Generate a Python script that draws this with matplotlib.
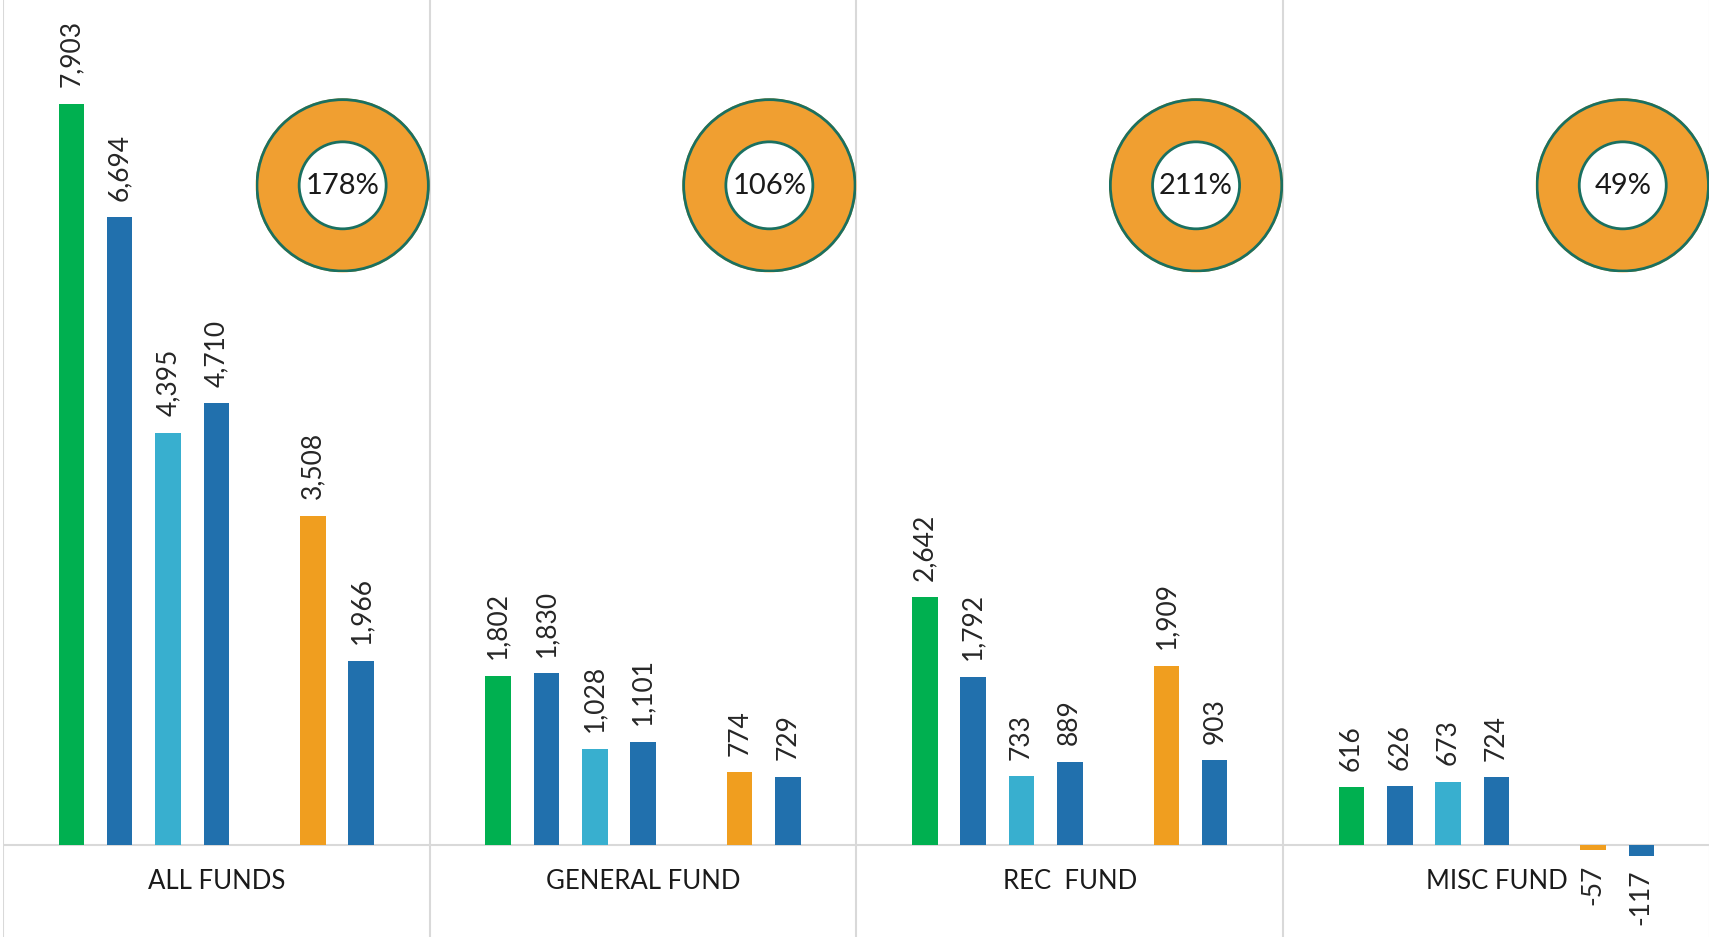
import matplotlib.pyplot as plt
from matplotlib.patches import Circle

plt.rcParams['font.family'] = ['Lato', 'DejaVu Sans']

funds = ["ALL FUNDS", "GENERAL FUND", "REC  FUND", "MISC FUND"]
s_green = [7903, 1802, 2642, 616]
s_blue1 = [6694, 1830, 1792, 626]
s_light = [4395, 1028, 733, 673]
s_blue2 = [4710, 1101, 889, 724]
s_orange = [3508, 774, 1909, -57]
s_blue3 = [1966, 729, 903, -117]
pcts = [178, 106, 211, 49]

# slot 4 is an empty series in the original
series = [(0, s_green, '#00B050'), (1, s_blue1, '#2170AD'), (2, s_light, '#38AFCF'),
          (3, s_blue2, '#2170AD'), (5, s_orange, '#F09E1F'), (6, s_blue3, '#2170AD')]

ymin, ymax = -982, 9012
upp = (ymax - ymin) / 937  # data units per pixel

fig = plt.figure(figsize=(17.09, 9.372), dpi=100)
ax = fig.add_axes([3 / 1709, 0, 1706 / 1709, 1])
ax.set_xlim(0, 1706 / 426.7)
ax.set_ylim(ymin, ymax)
ax.axis('off')

step = 48.3 / 426.7
width = 25.5 / 426.7
for slot, vals, col in series:
    xs = [i + 0.5 + (slot - 3) * step for i in range(len(funds))]
    bars = ax.bar(xs, vals, width, color=col, zorder=3)
    for b, v in zip(bars, vals):
        x = b.get_x() + b.get_width() / 2
        if v >= 0:
            ax.annotate(f"{v:,}", (x, v), xytext=(0, 12), textcoords='offset points',
                        rotation=90, ha='center', va='bottom', fontsize=19, color='#262626')
        else:
            ax.annotate(f"{v:,}", (x, v), xytext=(0, -10), textcoords='offset points',
                        rotation=90, ha='center', va='top', fontsize=19, color='#262626')

for i in range(len(funds) + 1):
    ax.axvline(i, color='#D9D9D9', lw=1.5, zorder=1)
ax.axhline(0, color='#D9D9D9', lw=1.5, zorder=2)

for i, name in enumerate(funds):
    ax.text(i + 0.5, ymax - 881 * upp, name, ha='center', va='center',
            fontsize=18.5, color='#1a1a1a')

# donuts
rx = 87 / 426.7
ry = 87 * upp
cy = ymax - 185.5 * upp
for i, p in enumerate(pcts):
    cx = i + 0.796
    dax = ax.inset_axes([cx - rx, cy - ry, 2 * rx, 2 * ry], transform=ax.transData)
    dax.pie([1], colors=['#F09F31'], radius=1, startangle=90,
            wedgeprops=dict(width=0.5, edgecolor='none'))
    dax.add_patch(Circle((0, 0), 0.985, fill=False, ec='#1A7060', lw=2))
    dax.add_patch(Circle((0, 0), 0.5, fill=False, ec='#1A7060', lw=2))
    dax.set_xlim(-1, 1)
    dax.set_ylim(-1, 1)
    dax.set_aspect('equal')
    dax.axis('off')
    dax.text(0, 0, f"{p}%", ha='center', va='center', fontsize=21, color='#1a1a1a')

fig.savefig('out.png', dpi=100)
